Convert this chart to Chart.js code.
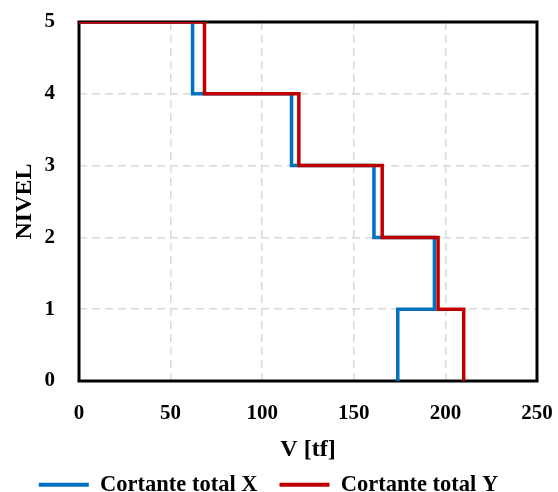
<!DOCTYPE html>
<html>
<head>
<meta charset="utf-8">
<script src="https://cdn.jsdelivr.net/npm/chart.js@4/dist/chart.umd.min.js"></script>
<style>
  html, body { margin: 0; padding: 0; background: #fff; }
  #wrap { width: 558px; height: 492px; }
</style>
</head>
<body>
<div id="wrap"><canvas id="shearChart" width="558" height="492"></canvas></div>
<script>
// niveles y cortante de cada entrepiso (nivel i-1 a i)
const niveles = [0, 1, 2, 3, 4, 5];
const cortanteX = [174, 194, 161, 116, 62];
const cortanteY = [210, 196, 165.5, 120, 68.5];
const ticksX = [0, 50, 100, 150, 200, 250];

// arma la escalera: vertical en cada entrepiso, horizontal entre ellos
function escalera(cortes) {
  const pts = [];
  for (let i = 0; i < cortes.length; i++) {
    pts.push({ x: cortes[i], y: niveles[i] });
    pts.push({ x: cortes[i], y: niveles[i + 1] });
  }
  pts.push({ x: 0, y: niveles[niveles.length - 1] });
  return pts;
}

const fuente = 'Liberation Serif, Times New Roman, serif';

const ctx = document.getElementById('shearChart').getContext('2d');
new Chart(ctx, {
  type: 'scatter',
  data: {
    datasets: [
      {
        label: 'Cortante total X',
        data: escalera(cortanteX),
        showLine: true,
        borderColor: '#0070C0',
        backgroundColor: '#0070C0',
        borderWidth: 3.5,
        pointRadius: 0,
        order: 2
      },
      {
        label: 'Cortante total Y',
        data: escalera(cortanteY),
        showLine: true,
        borderColor: '#C00000',
        backgroundColor: '#C00000',
        borderWidth: 3.5,
        pointRadius: 0,
        order: 1
      }
    ]
  },
  options: {
    responsive: false,
    animation: false,
    layout: { padding: { top: 22, right: 21, left: 0, bottom: -14 } },
    plugins: {
      tooltip: { enabled: false },
      legend: {
        position: 'bottom',
        labels: {
          color: '#000',
          boxWidth: 50,
          boxHeight: 4,
          padding: 22,
          font: { family: fuente, size: 22.5, weight: 'bold', lineHeight: 1 },
          sort: (a, b) => a.datasetIndex - b.datasetIndex,
          generateLabels: chart => Chart.defaults.plugins.legend.labels.generateLabels(chart)
            .map(l => Object.assign(l, { lineWidth: 0 }))
        }
      }
    },
    scales: {
      x: {
        type: 'linear',
        min: 0,
        max: 250,
        afterBuildTicks: ax => { ax.ticks = ticksX.map(v => ({ value: v })); },
        afterFit: ax => { ax.height = 70.5; ax.paddingLeft = 0; ax.paddingRight = 0; },
        ticks: {
          color: '#000',
          padding: 20,
          font: { family: fuente, size: 21, weight: 'bold' }
        },
        grid: { color: '#d9d9d9', lineWidth: 1.5, drawTicks: false },
        border: { display: false, dash: [8, 5] },
        title: {
          display: true,
          text: 'V [tf]',
          color: '#000',
          padding: { top: 0, bottom: -10 },
          font: { family: fuente, size: 24, weight: 'bold', lineHeight: 1 }
        }
      },
      y: {
        type: 'linear',
        min: 0,
        max: 5,
        afterBuildTicks: ax => { ax.ticks = niveles.map(v => ({ value: v })); },
        afterFit: ax => { ax.width = 79; ax.paddingTop = 0; ax.paddingBottom = 0; },
        ticks: {
          color: '#000',
          padding: 24,
          font: { family: fuente, size: 21, weight: 'bold' }
        },
        grid: { color: '#d9d9d9', lineWidth: 1.5, drawTicks: false },
        border: { display: false, dash: [8, 5] },
        title: {
          display: true,
          text: 'NIVEL',
          color: '#000',
          padding: { top: 13, bottom: 0 },
          font: { family: fuente, size: 24, weight: 'bold', lineHeight: 1 }
        }
      }
    }
  },
  plugins: [{
    id: 'marco',
    beforeDatasetsDraw(chart) {
      const { ctx, chartArea: a } = chart;
      ctx.save();
      ctx.strokeStyle = '#000';
      ctx.lineWidth = 3;
      ctx.strokeRect(a.left, a.top, a.right - a.left, a.bottom - a.top);
      ctx.restore();
    }
  }]
});
</script>
</body>
</html>
